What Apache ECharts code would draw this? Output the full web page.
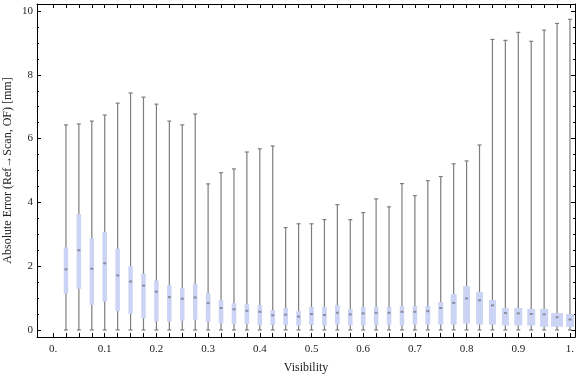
<!DOCTYPE html>
<html>
<head>
<meta charset="utf-8">
<script src="https://cdn.jsdelivr.net/npm/echarts@6/dist/echarts.min.js"></script>
<style>
html, body { margin:0; padding:0; background:#fff; }
#chart { width:576px; height:377px; }
</style>
</head>
<body>
<div id="chart"></div>
<script>
// visibility bins
var visibility = [0.025,0.05,0.075,0.1,0.125,0.15,0.175,0.2,0.225,0.25,
                  0.275,0.3,0.325,0.35,0.375,0.4,0.425,0.45,0.475,0.5,
                  0.525,0.55,0.575,0.6,0.625,0.65,0.675,0.7,0.725,0.75,
                  0.775,0.8,0.825,0.85,0.875,0.9,0.925,0.95,0.975,1.0];
var errMin = [0,0,0,0,0,0,0,0,0,0, 0,0,0,0,0,0,0,0,0,0,
              0,0,0,0,0,0,0,0,0,0, 0,0,0,0,0,0,0,0,0,0];
var errQ1 = [1.13,1.29,0.79,0.885,0.59,0.51,0.36,0.27,0.26,0.29,
             0.32,0.26,0.21,0.19,0.19,0.16,0.16,0.16,0.14,0.16,
             0.14,0.17,0.14,0.14,0.16,0.16,0.14,0.17,0.17,0.17,
             0.17,0.20,0.17,0.17,0.14,0.14,0.14,0.10,0.10,0.10];
var errMedian = [1.90,2.50,1.92,2.09,1.71,1.52,1.39,1.20,1.03,0.98,
                 1.02,0.84,0.69,0.65,0.60,0.57,0.46,0.48,0.42,0.50,
                 0.47,0.54,0.49,0.52,0.54,0.54,0.57,0.57,0.59,0.69,
                 0.85,0.99,0.93,0.77,0.53,0.52,0.50,0.49,0.40,0.33];
var errQ3 = [2.59,3.63,2.875,3.08,2.55,2.00,1.77,1.55,1.41,1.31,
             1.44,1.16,0.94,0.84,0.81,0.78,0.625,0.69,0.59,0.72,
             0.72,0.78,0.66,0.72,0.72,0.72,0.75,0.75,0.75,0.875,
             1.125,1.375,1.19,0.94,0.69,0.69,0.66,0.66,0.53,0.50];
var errMax = [6.43,6.46,6.55,6.74,7.11,7.43,7.30,7.08,6.55,6.43,
              6.77,4.58,4.93,5.05,5.58,5.68,5.77,3.21,3.33,3.33,
              3.46,3.93,3.46,3.68,4.11,3.86,4.59,4.21,4.68,4.81,
              5.21,5.30,5.80,9.11,9.08,9.33,9.05,9.40,9.61,9.74];
// box widths in visibility units
var boxWidth = [0.0087,0.0087,0.0087,0.0087,0.0087,0.0087,0.0087,0.0087,0.0087,0.0087,
                0.0087,0.0090,0.0090,0.0090,0.0090,0.0090,0.0090,0.0090,0.0090,0.0090,
                0.0090,0.0090,0.0090,0.0090,0.0090,0.0087,0.0087,0.0087,0.0095,0.0097,
                0.0116,0.0135,0.0135,0.0135,0.0135,0.0155,0.0155,0.0155,0.0232,0.0155];

var xTickValues = [0,0.025,0.05,0.075,0.1,0.125,0.15,0.175,0.2,0.225,0.25,0.275,0.3,0.325,0.35,0.375,
                   0.4,0.425,0.45,0.475,0.5,0.525,0.55,0.575,0.6,0.625,0.65,0.675,0.7,0.725,0.75,0.775,
                   0.8,0.825,0.85,0.875,0.9,0.925,0.95,0.975,1.0];
var xLabelValues = [0,0.1,0.2,0.3,0.4,0.5,0.6,0.7,0.8,0.9,1.0];
var xLabelText = ['0.','0.1','0.2','0.3','0.4','0.5','0.6','0.7','0.8','0.9','1.'];
var yLabelValues = [0,2,4,6,8,10];
var yMinorValues = [0,0.5,1,1.5,2,2.5,3,3.5,4,4.5,5,5.5,6,6.5,7,7.5,8,8.5,9,9.5,10];

var data = [];
for (var i = 0; i < visibility.length; i++) {
  data.push([visibility[i], errMin[i], errQ1[i], errMedian[i], errQ3[i], errMax[i], boxWidth[i]]);
}

var XMIN = -0.031, XMAX = 1.0097, YMIN = -0.22, YMAX = 10.22;
var font = '"Liberation Serif", "DejaVu Serif", serif';

function renderBox(params, api) {
  var x = api.value(0);
  var pMin = api.coord([x, api.value(1)]);
  var pQ1 = api.coord([x, api.value(2)]);
  var pMed = api.coord([x, api.value(3)]);
  var pQ3 = api.coord([x, api.value(4)]);
  var pMax = api.coord([x, api.value(5)]);
  var w = api.size([api.value(6), 0])[0];
  var cx = pMin[0];
  var wStyle = { stroke:'#7d7d7d', lineWidth:1.2 };
  return {
    type:'group',
    children:[
      { type:'line', shape:{ x1:cx, y1:pMax[1], x2:cx, y2:pMin[1] }, style:wStyle },
      { type:'line', shape:{ x1:cx-2, y1:pMax[1], x2:cx+2, y2:pMax[1] }, style:wStyle },
      { type:'line', shape:{ x1:cx-2, y1:pMin[1], x2:cx+2, y2:pMin[1] }, style:wStyle },
      { type:'rect', shape:{ x:cx-w/2, y:pQ3[1], width:w, height:pQ1[1]-pQ3[1] },
        style:{ fill:'#ccd4f5' } },
      { type:'rect', shape:{ x:cx-1.5, y:pMed[1]-1, width:3, height:2 },
        style:{ fill:'#8b8b9c' } }
    ]
  };
}

function frameAxis(pos, min, max, extra) {
  var ax = {
    type:'value', min:min, max:max, position:pos, offset:0,
    axisLine:{ show:true, onZero:false, lineStyle:{ color:'#000', width:1 } },
    axisTick:{ show:false },
    axisLabel:{ show:false },
    splitLine:{ show:false }
  };
  for (var k in extra) ax[k] = extra[k];
  return ax;
}

var Box = echarts.init(document.getElementById('chart'));
var option = {
  animation:false,
  grid:{ left:37, right:1, top:4, bottom:40, containLabel:false, outerBoundsMode:'none' },
  xAxis:[
    frameAxis('bottom', XMIN, XMAX, {
      name:'Visibility', nameLocation:'middle', nameGap:25,
      nameTextStyle:{ fontFamily:font, fontSize:12, color:'#222' },
      axisTick:{ show:true, inside:true, length:4, customValues:xTickValues, lineStyle:{ color:'#000' } },
      axisLabel:{ show:true, customValues:xLabelValues, margin:7,
        fontFamily:font, fontSize:11, color:'#222',
        formatter:function(v){
          for (var k = 0; k < xLabelValues.length; k++) {
            if (Math.abs(xLabelValues[k] - v) < 1e-6) return xLabelText[k];
          }
          return '';
        } }
    }),
    frameAxis('top', XMIN, XMAX, {
      axisTick:{ show:true, inside:true, length:4, customValues:xTickValues, lineStyle:{ color:'#000' } }
    })
  ],
  yAxis:[
    frameAxis('left', YMIN, YMAX, {
      name:'Absolute Error (Ref\u2192Scan, OF) [mm]', nameLocation:'middle', nameGap:23,
      nameMoveOverlap:false,
      nameTextStyle:{ fontFamily:font, fontSize:12, color:'#222' },
      axisTick:{ show:true, inside:true, length:4, customValues:yLabelValues, lineStyle:{ color:'#000' } },
      axisLabel:{ show:true, customValues:yLabelValues, margin:4,
        fontFamily:font, fontSize:11, color:'#222' }
    }),
    frameAxis('left', YMIN, YMAX, {
      axisLine:{ show:false, onZero:false },
      axisTick:{ show:true, inside:true, length:2, customValues:yMinorValues, lineStyle:{ color:'#000' } }
    }),
    frameAxis('right', YMIN, YMAX, {
      axisTick:{ show:true, inside:true, length:4, customValues:yLabelValues, lineStyle:{ color:'#000' } }
    }),
    frameAxis('right', YMIN, YMAX, {
      axisLine:{ show:false, onZero:false },
      axisTick:{ show:true, inside:true, length:2, customValues:yMinorValues, lineStyle:{ color:'#000' } }
    })
  ],
  series:[
    {
      type:'custom',
      name:'Absolute Error',
      xAxisIndex:0, yAxisIndex:0,
      clip:true,
      renderItem:renderBox,
      encode:{ x:0, y:[1,2,3,4,5] },
      data:data
    }
  ]
};
Box.setOption(option);
</script>
</body>
</html>
